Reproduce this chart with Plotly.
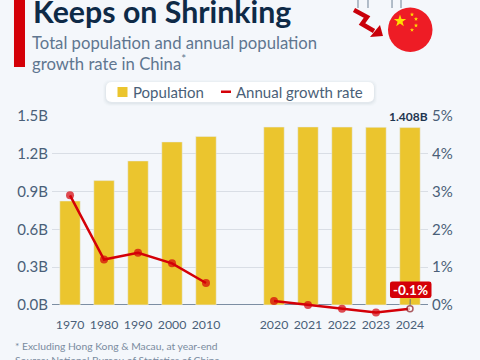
import plotly.graph_objects as go
import math

W, H = 480, 360
L, R, T, B = 52, 52, 116, 40
FONT = "Lato"

categories = ["1970", "1980", "1990", "2000", "2010", "", "2020", "2021", "2022", "2023", "2024"]
positions = [0, 1, 2, 3, 4, 5, 6, 7, 8, 9, 10]
population = [0.825, 0.987, 1.143, 1.294, 1.337, None, 1.412, 1.413, 1.412, 1.410, 1.408]
growth = [2.9, 1.2, 1.38, 1.1, 0.58, None, 0.1, 0.0, -0.1, -0.2, -0.1]
pop_ticks = [0, 0.3, 0.6, 0.9, 1.2, 1.5]
pop_labels = ["0.0B", "0.3B", "0.6B", "0.9B", "1.2B", "1.5B"]
rate_ticks = [0, 1, 2, 3, 4, 5]
rate_labels = ["0%", "1%", "2%", "3%", "4%", "5%"]

BG = "#f4f7fb"
INK = "#4a5f78"
RED = "#d40008"
GOLD = "#ebc52e"


def xp(x):
    return (x - L) / (W - L - R)


def yp(y):
    return (H - B - y) / (H - T - B)


def path(points, close=True):
    d = "M" + " L".join(f"{xp(a):.4f},{yp(b):.4f}" for a, b in points)
    return d + (" Z" if close else "")


def rrect(x0, y0, x1, y1, r):
    return (f"M{xp(x0+r):.4f},{yp(y0):.4f} L{xp(x1-r):.4f},{yp(y0):.4f} "
            f"Q{xp(x1):.4f},{yp(y0):.4f} {xp(x1):.4f},{yp(y0+r):.4f} "
            f"L{xp(x1):.4f},{yp(y1-r):.4f} Q{xp(x1):.4f},{yp(y1):.4f} {xp(x1-r):.4f},{yp(y1):.4f} "
            f"L{xp(x0+r):.4f},{yp(y1):.4f} Q{xp(x0):.4f},{yp(y1):.4f} {xp(x0):.4f},{yp(y1-r):.4f} "
            f"L{xp(x0):.4f},{yp(y0+r):.4f} Q{xp(x0):.4f},{yp(y0):.4f} {xp(x0+r):.4f},{yp(y0):.4f} Z")


def star(cx, cy, r):
    pts = []
    for i in range(10):
        a = -math.pi / 2 + i * math.pi / 5
        rr = r if i % 2 == 0 else r * 0.4
        pts.append((cx + rr * math.cos(a), cy + rr * math.sin(a)))
    return path(pts)


shapes = []


def add_path(d, fill="rgba(0,0,0,0)", line=None, lw=0, layer="above"):
    shapes.append(dict(type="path", xref="paper", yref="paper", path=d, fillcolor=fill,
                       line=dict(color=line or "rgba(0,0,0,0)", width=lw), layer=layer))


# accent bar
add_path(path([(14, -2), (25, -2), (25, 67), (14, 67)]), fill=RED)
# legend card with soft shadow, swatches
for g, a in [(3, 0.02), (2, 0.03), (1, 0.04)]:
    add_path(rrect(106 - g, 82 - g + 1, 374 + g, 102 + g + 1, 7), fill=f"rgba(60,80,110,{a})")
add_path(rrect(106, 82, 374, 102, 6), fill="#ffffff")
add_path(path([(117.5, 87), (127.5, 87), (127.5, 97), (117.5, 97)]), fill=GOLD)
add_path(path([(221, 90.5), (231, 90.5), (231, 93), (221, 93)]), fill=RED)
# falling-arrow decoration
for x in (358, 368, 392, 401):
    add_path(path([(x, -1), (x, 8)], close=False), line="#6f8296", lw=1)
add_path(path([(354, 10), (367, 17), (362, 24), (374, 31)], close=False), line="#c9000a", lw=4.5)
add_path(path([(383, 36), (370, 37), (380, 25)]), fill="#c9000a")
# flag
shapes.append(dict(type="circle", xref="paper", yref="paper", x0=xp(388), x1=xp(432.5),
                   y0=yp(52), y1=yp(7.5), fillcolor="#ee1c25", line=dict(width=0)))
add_path(star(400, 21, 6.5), fill="#ffde00")
for cx, cy in [(412, 14.5), (416, 19), (416, 25.5), (412, 30)]:
    add_path(star(cx, cy, 2.2), fill="#ffde00")
# value badge
add_path(rrect(390, 281.5, 431.5, 298, 2.5), fill=RED)


def text(x, y, s, size, color, bold=False, anchor="left"):
    return dict(xref="paper", yref="paper", x=xp(x), y=yp(y), xanchor=anchor, yanchor="middle",
                text=f"<b>{s}</b>" if bold else s, showarrow=False,
                font=dict(family=FONT, size=size, color=color))


annotations = [
    text(31, 11, "Keeps on Shrinking", 30.3, "#0e2a47", bold=True),
    text(30, 43, "Total population and annual population", 16.7, "#5f7690"),
    text(30, 62, "growth rate in China<sup>*</sup>", 16.7, "#5f7690"),
    text(13, 346, "* Excluding Hong Kong &amp; Macau, at year-end", 10.3, "#7a8ba0"),
    text(13, 360, "Source: National Bureau of Statistics of China", 10.3, "#7a8ba0"),
    text(131, 91.5, "Population", 15, INK),
    text(234, 91.5, "Annual growth rate", 15, INK),
    dict(xref="paper", yref="paper", x=xp(430), y=yp(116), xanchor="right", yanchor="middle", text="<b>1.408B</b>",
         showarrow=False, bgcolor=BG, borderpad=1, font=dict(family=FONT, size=12, color="#1f3550")),
    dict(xref="x", yref="y2", x=positions[10], y=growth[10], text="<b>-0.1%</b>", ax=0.5, ay=-19,
         showarrow=True, arrowhead=0, arrowwidth=1, arrowcolor="#66707c", standoff=3,
         font=dict(family=FONT, size=13.5, color="#ffffff")),
]

fig = go.Figure()
fig.add_trace(go.Bar(x=positions, y=population, name="Population", marker_color=GOLD, width=0.6))
fig.add_trace(go.Scatter(x=positions, y=growth, yaxis="y2", mode="lines+markers", name="Annual growth rate",
                         connectgaps=False, cliponaxis=False,
                         line=dict(color=RED, width=2.5),
                         marker=dict(size=[8] * 10 + [6], color=[RED] * 10 + ["#ffffff"],
                                     line=dict(color=[RED] * 10 + ["#8c1a20"], width=[0] * 10 + [1.5]))))

fig.update_layout(
    width=W, height=H, margin=dict(l=L, r=R, t=T, b=B, autoexpand=False),
    paper_bgcolor=BG, plot_bgcolor=BG, font=dict(family=FONT, color=INK),
    showlegend=False, bargap=0.4, shapes=shapes, annotations=annotations,
    xaxis=dict(range=[-0.53, 10.53], tickmode="array", tickvals=positions, ticktext=categories,
               showgrid=False, zeroline=False, showline=False, ticks="", ticklabelstandoff=-4,
               tickfont=dict(family=FONT, size=12.3, color=INK)),
    yaxis=dict(range=[-0.12, 1.5], tickmode="array", tickvals=pop_ticks, ticktext=pop_labels,
               gridcolor="#d9dee5", gridwidth=1, zeroline=True, zerolinecolor="#7c8ea3", zerolinewidth=1,
               showline=False, ticklabelstandoff=3, tickfont=dict(family=FONT, size=15, color=INK)),
    yaxis2=dict(range=[-0.4, 5], overlaying="y", side="right", tickmode="array", tickvals=rate_ticks,
                ticktext=rate_labels, showgrid=False, zeroline=False, showline=False, ticklabelstandoff=3,
                tickfont=dict(family=FONT, size=15, color=INK)),
)

fig.write_html("out.html", config={"displayModeBar": False}, post_script="document.body.style.margin='0';")
